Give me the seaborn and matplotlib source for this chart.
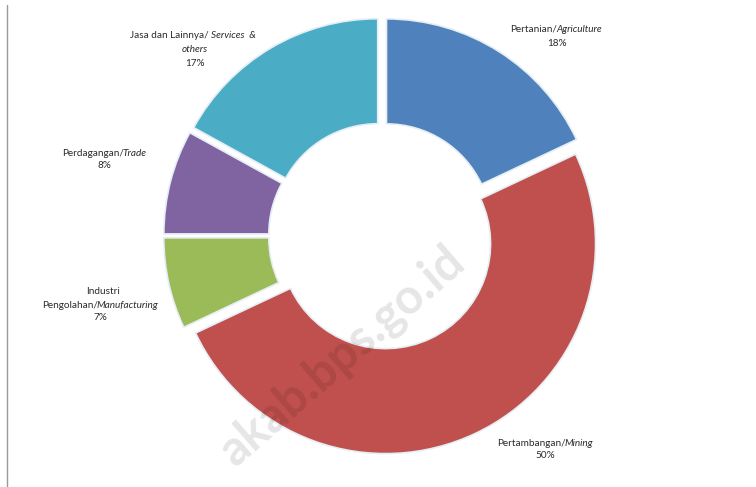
import matplotlib
matplotlib.use("Agg")
import matplotlib.pyplot as plt
import seaborn as sns
from matplotlib.lines import Line2D

sns.set_theme(style="white")
plt.rcParams['font.family'] = ['Lato', 'DejaVu Sans']

# Data
sectors_id = ["Pertanian/", "Pertambangan/", "Pengolahan/", "Perdagangan/", "Jasa dan Lainnya/ "]
sectors_en = ["Agriculture", "Mining", "Manufacturing", "Trade", "Services  &"]
shares = [18, 50, 7, 8, 17]
colors = ["#4F81BD", "#C0504D", "#9BBB59", "#8064A2", "#4BACC6"]

W, H = 756, 487
fig = plt.figure(figsize=(W / 100, H / 100), dpi=100)
ax = fig.add_axes([0, 0, 1, 1])

scale = 210.0  # pixels per data unit
cx, cy = 382, 236  # centre in pixels (from top-left)

wedges, _ = ax.pie(shares, colors=colors, startangle=90, counterclock=False,
                   explode=[0.04] * len(shares), radius=1.0,
                   wedgeprops=dict(width=0.5, edgecolor="#e6eef5", linewidth=1.2))

ax.set_aspect('auto')
ax.set_xlim(-cx / scale, (W - cx) / scale)
ax.set_ylim(-(H - cy) / scale, cy / scale)
ax.axis('off')

renderer = fig.canvas.get_renderer()
tc = "#2b2b2b"
fs = 7.2


def line(xc, y, parts):
    """Draw a line of text made of (string, style) parts centred at pixel (xc, y)."""
    widths = []
    objs = []
    for s, st in parts:
        t = fig.text(0, 0, s, fontsize=fs, color=tc, style=st, ha="left", va="center")
        widths.append(t.get_window_extent(renderer).width - (1.5 if s.endswith("/") else 0))
        objs.append(t)
    total = sum(widths)
    x = xc - total / 2
    for t, w in zip(objs, widths):
        t.set_position((x / W, 1 - y / H))
        x += w


# Agriculture
line(556, 29, [(sectors_id[0], "normal"), (sectors_en[0], "italic")])
line(557, 43, [(f"{shares[0]}%", "normal")])
# Mining
line(545, 443, [(sectors_id[1], "normal"), (sectors_en[1], "italic")])
line(545, 456, [(f"{shares[1]}%", "normal")])
# Manufacturing
line(103, 291, [("Industri", "normal")])
line(100, 305, [(sectors_id[2], "normal"), (sectors_en[2], "italic")])
line(100, 318, [(f"{shares[2]}%", "normal")])
# Trade
line(104, 154, [(sectors_id[3], "normal"), (sectors_en[3], "italic")])
line(104, 166, [(f"{shares[3]}%", "normal")])
# Services
line(193, 36, [(sectors_id[4], "normal"), (sectors_en[4], "italic")])
line(195, 50, [("others", "italic")])
line(195, 63, [(f"{shares[4]}%", "normal")])

# watermark
fig.text(342 / W, 1 - 356 / H, "akab.bps.go.id", rotation=41, rotation_mode="anchor",
         ha="center", va="center", fontsize=35, fontweight="bold", color="black", alpha=0.1)

# left border line
fig.add_artist(Line2D([7 / W, 7 / W], [0, 1 - 5 / H], color="#9a9a9a", linewidth=1.0))

fig.savefig("out.png", dpi=100)
